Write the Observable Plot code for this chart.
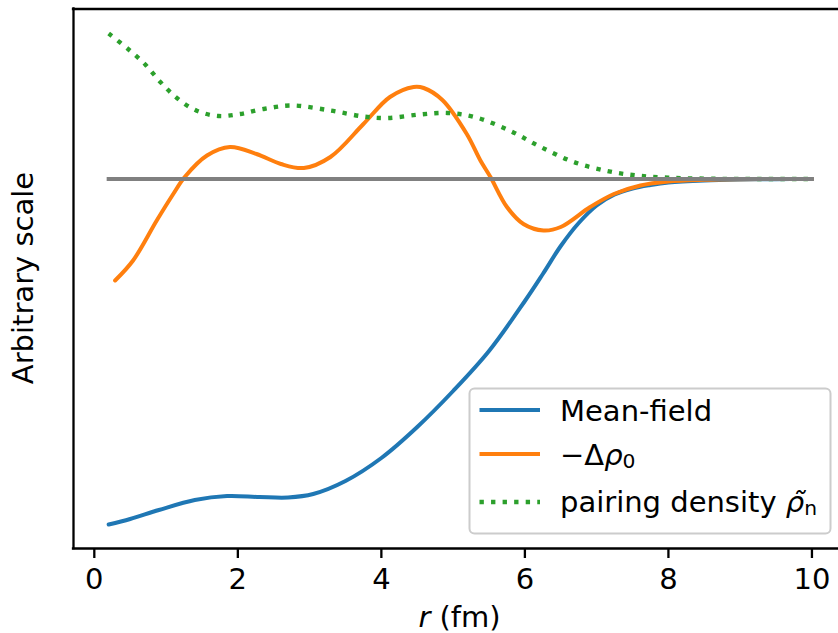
<!DOCTYPE html>
<html><head><meta charset="utf-8">
<script src="https://cdn.jsdelivr.net/npm/d3@7"></script>
<script src="https://cdn.jsdelivr.net/npm/@observablehq/plot@0.6"></script>
<style>
body{margin:0;background:#fff;}
svg{display:block;}
</style></head><body><div id="chart"></div>
<script>
// ---- data ----
const rMean = [0.2, 0.5, 0.9, 1.4, 1.85, 2.3, 2.7, 3.05, 3.5, 4.0, 4.5, 5.0, 5.5, 6.0, 6.25, 6.5, 6.75, 7.0, 7.25, 7.5, 7.75, 8.0, 8.5, 9.0, 9.5, 10.0];
const meanField = [-3.455, -3.40, -3.31, -3.21, -3.17, -3.18, -3.185, -3.15, -3.02, -2.79, -2.48, -2.12, -1.72, -1.22, -0.95, -0.67, -0.44, -0.265, -0.155, -0.095, -0.06, -0.035, -0.014, -0.005, -0.002, 0];

const rDelta = [0.29, 0.54, 0.87, 1.10, 1.26, 1.57, 1.89, 2.26, 2.6, 2.92, 3.29, 3.75, 4.12, 4.45, 4.59, 4.85, 5.19, 5.38, 5.52, 5.75, 5.98, 6.26, 6.50, 6.91, 7.24, 7.61, 8.0, 8.5, 9.0, 10.0];
const deltaRho = [-1.015, -0.815, -0.415, -0.15, 0.02, 0.235, 0.32, 0.25, 0.15, 0.11, 0.22, 0.55, 0.82, 0.92, 0.91, 0.79, 0.45, 0.185, 0.02, -0.28, -0.45, -0.515, -0.48, -0.28, -0.15, -0.065, -0.025, -0.008, -0.002, 0];

const rPair = [0.2, 0.47, 0.71, 0.92, 1.15, 1.42, 1.73, 2.03, 2.36, 2.75, 3.29, 3.75, 4.08, 4.54, 4.92, 5.3, 5.80, 6.22, 6.68, 7.15, 7.56, 8.0, 8.5, 9.0, 10.0];
const pairing = [1.455, 1.30, 1.145, 0.97, 0.81, 0.685, 0.63, 0.65, 0.70, 0.735, 0.685, 0.625, 0.61, 0.645, 0.66, 0.62, 0.48, 0.32, 0.17, 0.08, 0.035, 0.013, 0.004, 0.001, 0];

const rZero = [0.2, 10.0];
const zeroLine = [0, 0];

const xTicks = [0, 2, 4, 6, 8, 10];
const seriesNames = ["Mean-field", "−Δρ0", "pairing density ρ̃n"];
const seriesColors = ["#1f77b4", "#ff7f0e", "#2ca02c"];

// ---- build rows ----
const rows = (xs, ys) => xs.map((x, i) => ({x, y: ys[i]}));
const meanRows = rows(rMean, meanField);
const deltaRows = rows(rDelta, deltaRho);
const pairRows = rows(rPair, pairing);
const zeroRows = rows(rZero, zeroLine);

const xDomain = [-0.29, 10.37];
const yDomain = [-3.695, 1.70];

const plot = Plot.plot({
  width: 838, height: 633,
  marginLeft: 73, marginRight: 0, marginTop: 8.5, marginBottom: 85,
  style: {fontFamily: "DejaVu Sans", fontSize: "29px", background: "white", overflow: "visible"},
  x: {domain: xDomain},
  y: {domain: yDomain, axis: null},
  marks: [
    Plot.line(meanRows, {x: "x", y: "y", stroke: seriesColors[0], strokeWidth: 4, curve: "catmull-rom"}),
    Plot.line(deltaRows, {x: "x", y: "y", stroke: seriesColors[1], strokeWidth: 4, curve: "catmull-rom"}),
    Plot.line(pairRows, {x: "x", y: "y", stroke: seriesColors[2], strokeWidth: 4.35, strokeDasharray: "4.35,7.2", strokeLinecap: "butt", curve: "catmull-rom"}),
    Plot.line(zeroRows, {x: "x", y: "y", stroke: "#808080", strokeWidth: 4, strokeLinecap: "square"}),
    Plot.ruleX([xDomain[0]], {stroke: "black", strokeWidth: 2.3, strokeLinecap: "square"}),
    Plot.ruleY(yDomain, {stroke: "black", strokeWidth: 2.3, strokeLinecap: "square"}),
    Plot.axisX({ticks: xTicks, tickSize: 10, tickPadding: 10, fontSize: 29, label: null, tickFormat: d => String(d), stroke: "black", strokeWidth: 2.3})
  ]
});
document.getElementById("chart").appendChild(plot);

const svg = d3.select(plot);
svg.selectAll('[aria-label="x-axis tick"] path').attr("stroke-width", 2.3);

// axis labels
const xl = svg.append("text").attr("x", 459.5).attr("y", 627).attr("text-anchor", "middle")
  .attr("font-family", "DejaVu Sans").attr("font-size", 29).attr("fill", "black");
xl.append("tspan").attr("font-style", "italic").text("r");
xl.append("tspan").text(" (fm)");

svg.append("text").attr("transform", "translate(33,278) rotate(-90)").attr("text-anchor", "middle")
  .attr("font-family", "DejaVu Sans").attr("font-size", 29).attr("fill", "black").text("Arbitrary scale");

// legend
const lg = svg.append("g").attr("font-family", "DejaVu Sans").attr("font-size", 29)
  .attr("fill", "black").attr("text-anchor", "start");
lg.append("rect").attr("x", 469.5).attr("y", 388.5).attr("width", 361).attr("height", 145).attr("rx", 5)
  .attr("fill", "white").attr("fill-opacity", 0.8).attr("stroke", "#cccccc").attr("stroke-width", 2);
const lineY = [410, 454, 502];
const baseY = [420.5, 465, 511.7];
lineY.forEach((y, i) => {
  const ln = lg.append("line").attr("x1", 479.5).attr("x2", 540).attr("y1", y).attr("y2", y)
    .attr("stroke", seriesColors[i]).attr("stroke-width", i === 2 ? 4.35 : 4);
  if (i === 2) ln.attr("stroke-dasharray", "4.35,7.2");
});
lg.append("text").attr("x", 560).attr("y", baseY[0]).attr("text-anchor", "start").text(seriesNames[0]);
const t2 = lg.append("text").attr("x", 560).attr("y", baseY[1]).attr("text-anchor", "start");
t2.append("tspan").text("−Δ");
t2.append("tspan").attr("font-style", "italic").text("ρ");
t2.append("tspan").attr("font-size", 20.3).attr("dy", 3.3).text("0");
const t3 = lg.append("text").attr("x", 560).attr("y", baseY[2]).attr("text-anchor", "start");
t3.append("tspan").text("pairing density ");
t3.append("tspan").attr("font-style", "italic").text("ρ\u0303");
t3.append("tspan").attr("font-size", 20.3).attr("dy", 3.3).text("n");
</script>
</body></html>
